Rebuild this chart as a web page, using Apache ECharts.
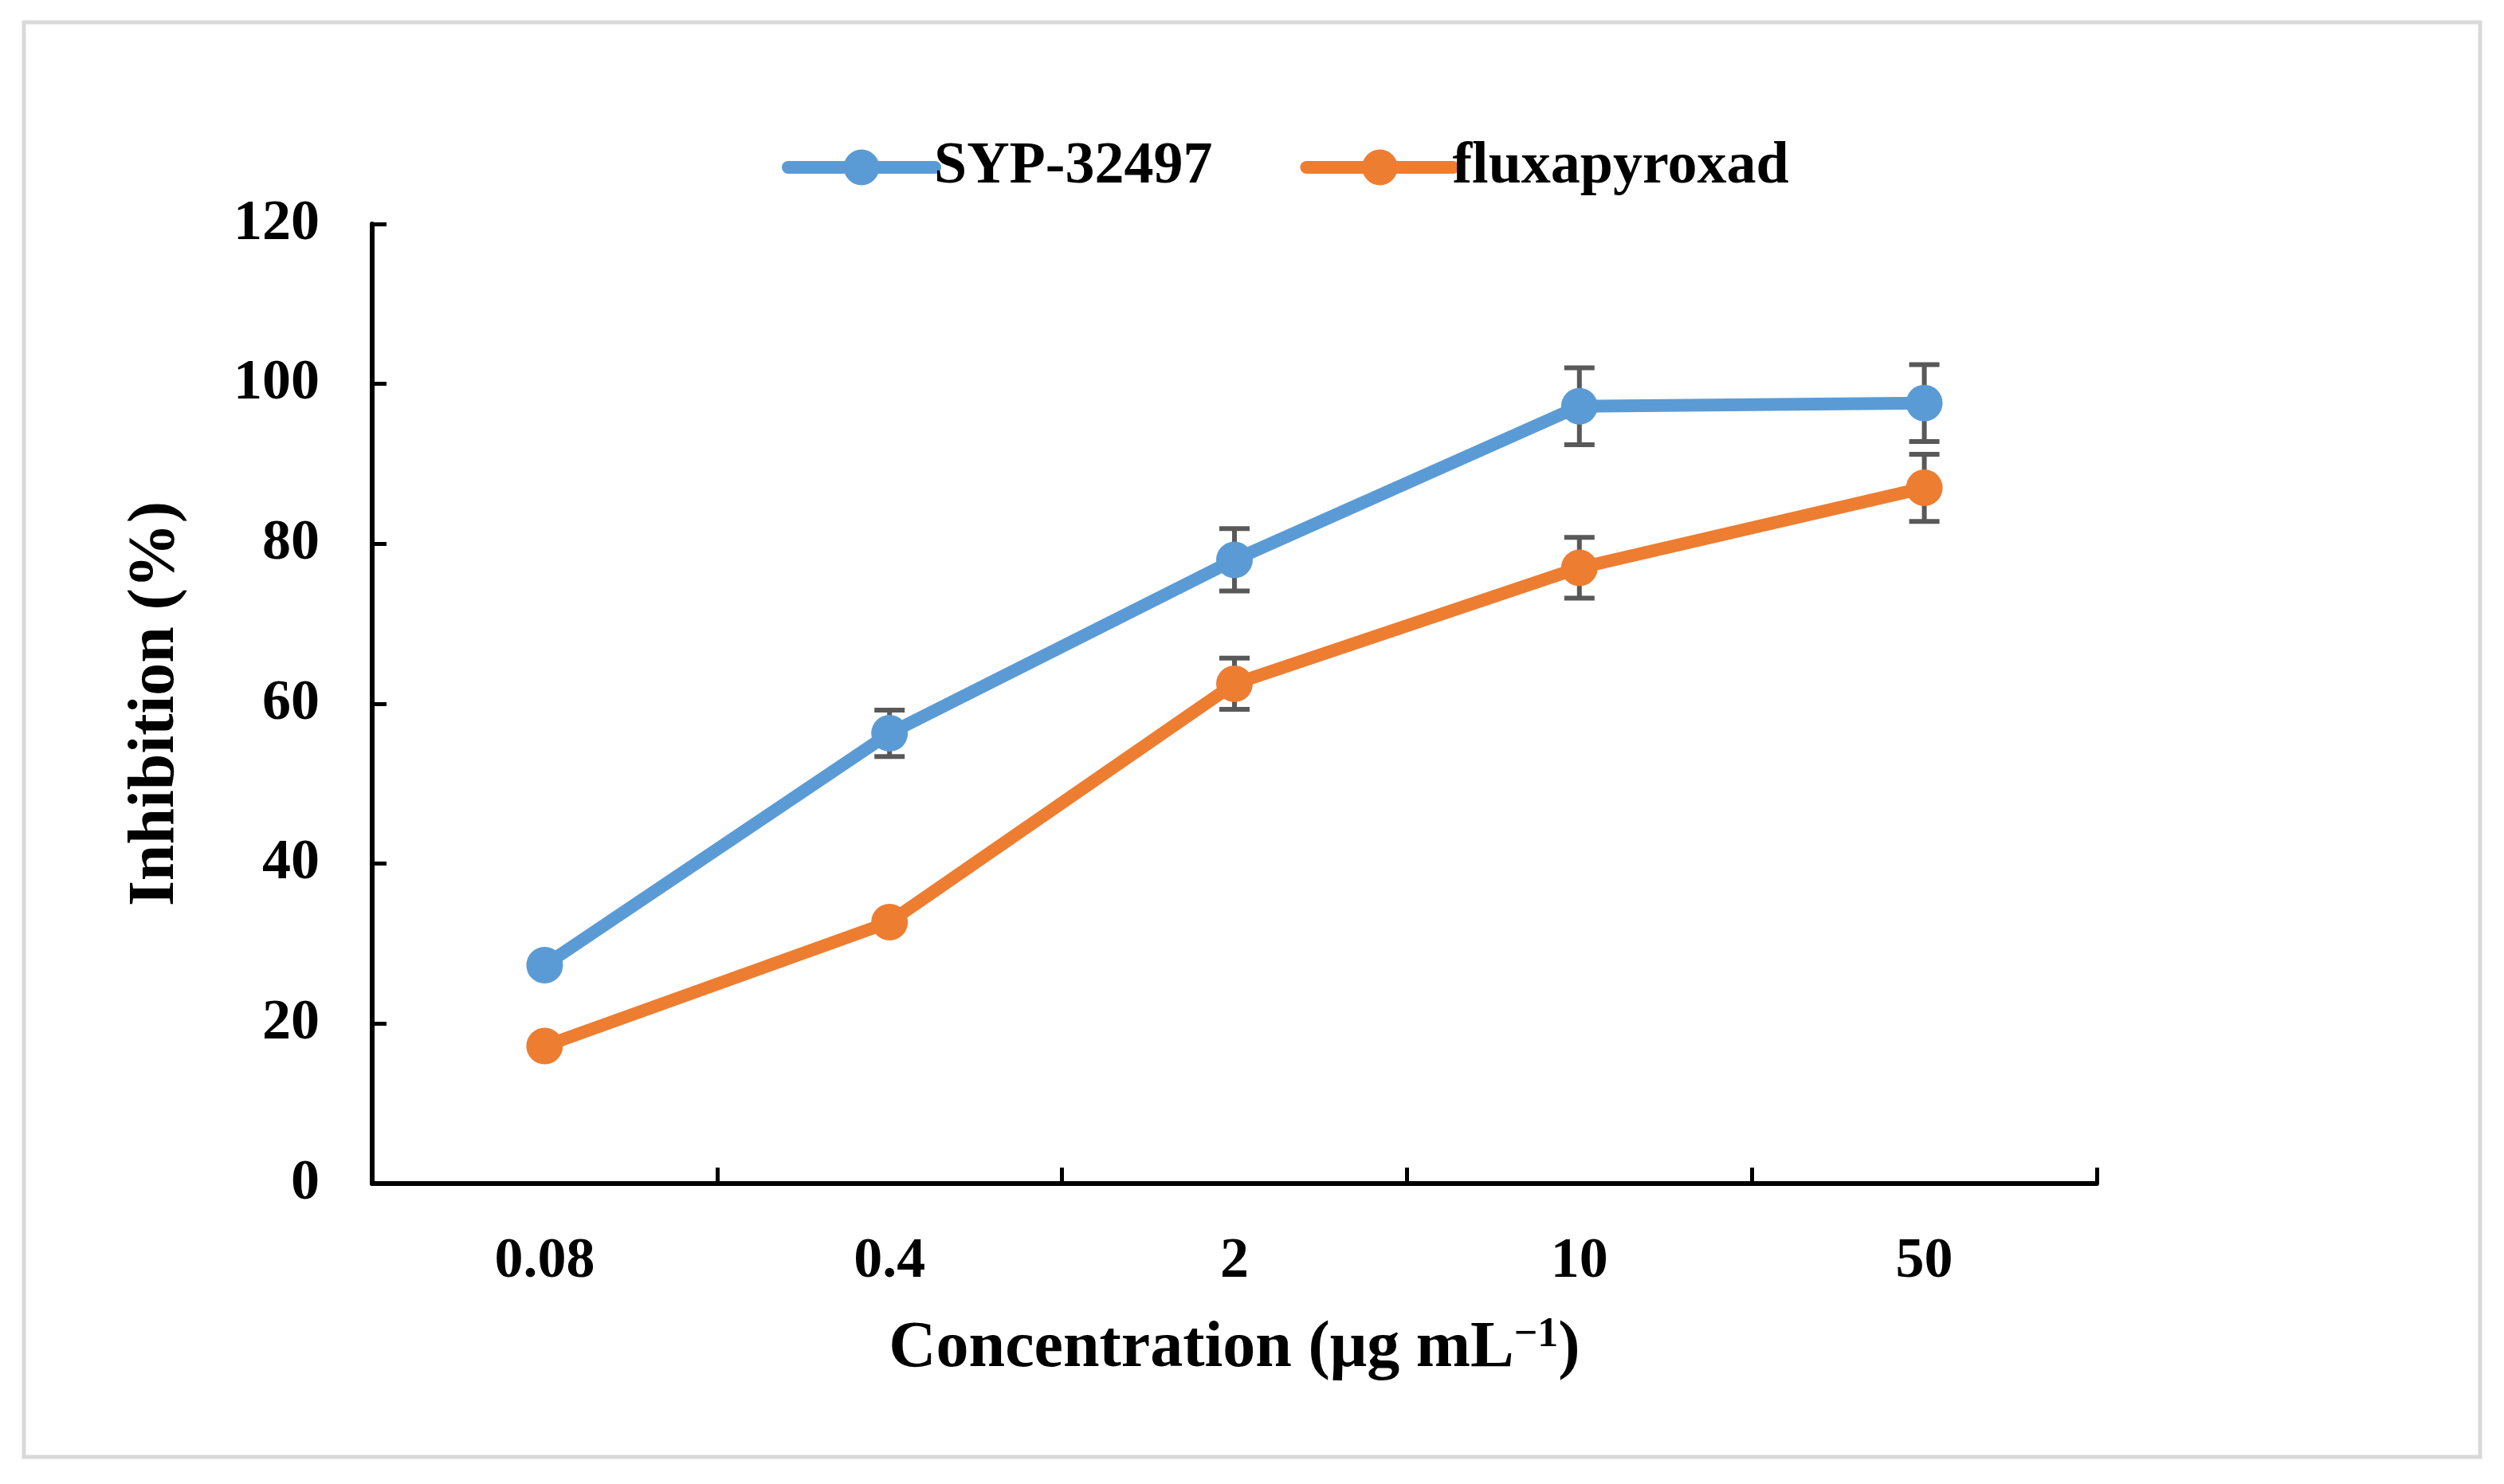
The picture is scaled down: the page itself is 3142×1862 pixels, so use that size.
<!DOCTYPE html>
<html>
<head>
<meta charset="utf-8">
<script src="https://cdn.jsdelivr.net/npm/echarts@6/dist/echarts.min.js"></script>
<style>
  html, body { margin: 0; padding: 0; background: #fff; }
  #chart { width: 3142px; height: 1862px; }
</style>
</head>
<body>
<div id="chart"></div>
<script>
// data
const concentrations = ['0.08', '0.4', '2', '10', '50'];
const syp = [27.3, 56.3, 78.0, 97.2, 97.6];
const sypErr = [1.0, 2.9, 3.9, 4.8, 4.8];
const flux = [17.2, 32.7, 62.5, 77.0, 87.0];
const fluxErr = [0.6, 1.0, 3.2, 3.8, 4.2];
const yTicks = [0, 20, 40, 60, 80, 100, 120];

const font = 'Liberation Serif';
const blue = '#5B9BD5';
const orange = '#ED7D31';

function errData(vals, errs) {
  return vals.map((v, i) => [i, v - errs[i], v + errs[i]]);
}

function renderErr(params, api) {
  const x = api.value(0);
  const lo = api.coord([x, api.value(1)]);
  const hi = api.coord([x, api.value(2)]);
  const w = 19;
  const st = { stroke: '#595959', lineWidth: 6 };
  return {
    type: 'group',
    children: [
      { type: 'line', shape: { x1: lo[0], y1: lo[1], x2: hi[0], y2: hi[1] }, style: st },
      { type: 'line', shape: { x1: lo[0] - w, y1: lo[1], x2: lo[0] + w, y2: lo[1] }, style: st },
      { type: 'line', shape: { x1: hi[0] - w, y1: hi[1], x2: hi[0] + w, y2: hi[1] }, style: st }
    ]
  };
}

const chart = echarts.init(document.getElementById('chart'));
chart.setOption({
  animation: false,
  backgroundColor: '#fff',
  graphic: [{
    type: 'rect',
    shape: { x: 30, y: 28, width: 3082, height: 1800 },
    style: { fill: 'none', stroke: '#d9d9d9', lineWidth: 5 },
    silent: true
  }],
  legend: {
    data: ['SYP-32497', 'fluxapyroxad'],
    left: 976,
    top: 168,
    itemWidth: 184,
    itemHeight: 56,
    itemGap: 110,
    lineStyle: { width: 16, cap: 'round' },
    textStyle: { fontFamily: font, fontWeight: 'bold', fontSize: 74, color: '#000', padding: [0, 0, 0, -6] }
  },
  grid: { left: 467, right: 511, top: 281, bottom: 377, containLabel: false },
  xAxis: {
    type: 'category',
    data: concentrations,
    boundaryGap: true,
    name: 'Concentration (μg mL{sup|−1})',
    nameLocation: 'middle',
    nameGap: 165,
    nameTextStyle: {
      fontFamily: font, fontWeight: 'bold', fontSize: 82, color: '#000',
      rich: {
        sup: { fontFamily: font, fontWeight: 'bold', fontSize: 52, color: '#000', verticalAlign: 'top', padding: [0, 0, 34, 0] }
      }
    },
    axisLine: { lineStyle: { color: '#000', width: 6 } },
    axisTick: { show: true, inside: true, length: 20, lineStyle: { color: '#000', width: 5 } },
    axisLabel: { margin: 62, fontFamily: font, fontWeight: 'bold', fontSize: 72, color: '#000' }
  },
  yAxis: {
    type: 'value',
    min: yTicks[0],
    max: yTicks[yTicks.length - 1],
    interval: 20,
    name: 'Inhibition (%)',
    nameLocation: 'middle',
    nameGap: 230,
    nameTextStyle: { fontFamily: font, fontWeight: 'bold', fontSize: 82, color: '#000' },
    axisLine: { show: true, lineStyle: { color: '#000', width: 6 } },
    axisTick: { show: true, inside: true, length: 18, lineStyle: { color: '#000', width: 5 } },
    axisLabel: { margin: 66, fontFamily: font, fontWeight: 'bold', fontSize: 72, color: '#000' },
    splitLine: { show: false }
  },
  series: [
    {
      type: 'custom', name: 'syp-err', z: 1,
      renderItem: renderErr, encode: { x: 0, y: [1, 2] },
      data: errData(syp, sypErr)
    },
    {
      type: 'custom', name: 'flux-err', z: 1,
      renderItem: renderErr, encode: { x: 0, y: [1, 2] },
      data: errData(flux, fluxErr)
    },
    {
      type: 'line', name: 'SYP-32497', z: 3, data: syp,
      symbol: 'circle', symbolSize: 46,
      lineStyle: { color: blue, width: 16 },
      itemStyle: { color: blue }
    },
    {
      type: 'line', name: 'fluxapyroxad', z: 3, data: flux,
      symbol: 'circle', symbolSize: 46,
      lineStyle: { color: orange, width: 16 },
      itemStyle: { color: orange }
    }
  ]
});
</script>
</body>
</html>
